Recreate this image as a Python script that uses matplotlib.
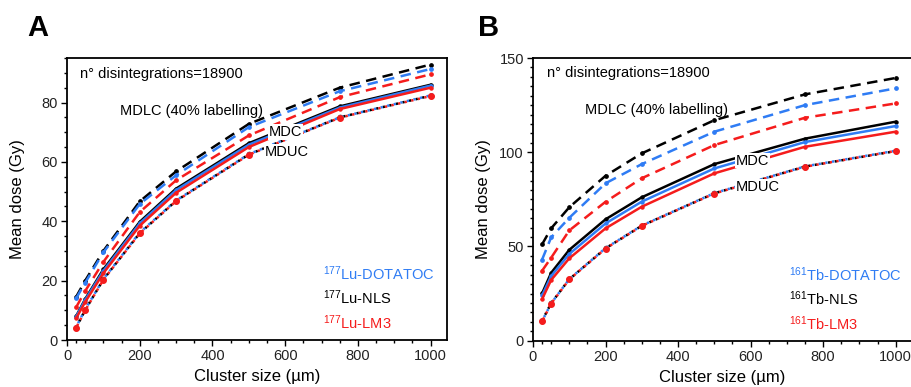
import matplotlib
matplotlib.use("Agg")
import matplotlib.pyplot as plt
from matplotlib.ticker import FixedLocator, MultipleLocator

plt.rcParams['font.family'] = ['Liberation Sans', 'DejaVu Sans']
plt.rcParams['mathtext.fontset'] = 'custom'
plt.rcParams['mathtext.rm'] = 'Liberation Sans'
plt.rcParams['mathtext.it'] = 'Liberation Sans:italic'
plt.rcParams['mathtext.bf'] = 'Liberation Sans:bold'

# ---------------- data ----------------
cluster_size = [25, 50, 100, 200, 300, 500, 750, 1000]

# Panel A : 177Lu
lu_dotatoc_mdlc = [14.0, 19.3, 29.5, 45.8, 55.5, 71.7, 83.8, 91.3]
lu_nls_mdlc     = [14.5, 20.0, 30.0, 46.7, 56.8, 72.8, 85.0, 92.8]
lu_lm3_mdlc     = [11.0, 16.5, 26.3, 43.1, 53.8, 68.9, 81.8, 89.5]
lu_nls_mdc      = [8.0, 13.8, 23.8, 39.8, 51.0, 66.3, 78.7, 86.0]
lu_dotatoc_mdc  = [7.8, 13.5, 23.3, 39.3, 50.5, 65.8, 78.3, 85.7]
lu_lm3_mdc      = [7.3, 12.8, 22.5, 38.5, 49.6, 65.0, 77.8, 85.0]
lu_nls_mduc     = [4.2, 10.1, 20.4, 36.0, 46.9, 62.5, 75.0, 82.3]
lu_dotatoc_mduc = [4.3, 10.3, 20.5, 36.2, 47.0, 62.6, 75.0, 82.4]
lu_lm3_mduc     = [4.1, 10.0, 20.3, 35.9, 46.8, 62.4, 74.9, 82.2]

# Panel B : 161Tb
tb_dotatoc_mdlc = [43.0, 54.8, 65.2, 83.5, 93.7, 110.9, 125.0, 133.9]
tb_nls_mdlc     = [51.1, 59.6, 70.8, 87.5, 99.4, 117.0, 130.7, 139.4]
tb_lm3_mdlc     = [37.1, 44.0, 58.5, 73.7, 86.2, 103.8, 118.3, 125.9]
tb_nls_mdc      = [25.1, 36.0, 48.2, 64.4, 76.1, 93.7, 107.2, 116.2]
tb_dotatoc_mdc  = [24.0, 34.3, 46.0, 62.2, 73.8, 91.4, 105.4, 113.9]
tb_lm3_mdc      = [22.0, 32.2, 43.7, 59.6, 71.1, 88.8, 102.9, 110.9]
tb_nls_mduc     = [10.6, 19.9, 32.6, 49.0, 61.0, 78.2, 92.4, 100.6]
tb_dotatoc_mduc = [10.4, 19.8, 32.7, 49.1, 61.1, 78.3, 92.5, 100.8]
tb_lm3_mduc     = [10.2, 19.7, 32.5, 48.9, 60.9, 78.1, 92.3, 100.7]

labels_lu = ["$^{177}$Lu-DOTATOC", "$^{177}$Lu-NLS", "$^{177}$Lu-LM3"]
labels_tb = ["$^{161}$Tb-DOTATOC", "$^{161}$Tb-NLS", "$^{161}$Tb-LM3"]

BLUE = '#2f7cf4'
BLACK = '#000000'
RED = '#f51c1c'

fig = plt.figure(figsize=(9.12, 3.87), dpi=100)
axA = fig.add_axes([67/912, 47/387, 380/912, 282/387])
axB = fig.add_axes([533/912, 46.3/387, 379/912, 282.7/387])


def draw(ax, dl, dc, du, ymax, ymajor, yminor, labels, legy, txt):
    # MDLC dashed
    for vals, c in [(dl[1], BLACK), (dl[0], BLUE), (dl[2], RED)]:
        ax.plot(cluster_size, vals, color=c, lw=1.8, dashes=(4.2, 2.6),
                marker='o', ms=2.4, zorder=3)
    # MDC solid
    for vals, c in [(dc[1], BLACK), (dc[0], BLUE), (dc[2], RED)]:
        ax.plot(cluster_size, vals, color=c, lw=1.8, ls='-',
                marker='o', ms=2.2, zorder=3)
    # MDUC dotted
    for i, (vals, c, ms) in enumerate([(du[1], BLACK, 3.0), (du[0], BLUE, 2.6), (du[2], RED, 4.0)]):
        ax.plot(cluster_size, vals, color=c, lw=1.8,
                ls=(i * 0.9, (0.9, 1.8)), marker='o', ms=ms, zorder=3)

    ax.set_xlim(0, 1045)
    ax.set_ylim(0, ymax)
    ax.xaxis.set_major_locator(FixedLocator([0, 200, 400, 600, 800, 1000]))
    ax.xaxis.set_minor_locator(FixedLocator([25, 50, 100, 150, 250, 300, 350, 450, 500, 550,
                                             650, 700, 750, 850, 900, 950]))
    ax.yaxis.set_major_locator(MultipleLocator(ymajor))
    ax.yaxis.set_minor_locator(MultipleLocator(yminor))
    ax.tick_params(which='major', direction='out', length=4.5, width=1.0,
                   labelsize=10.5, labelcolor='#222222', pad=2)
    ax.tick_params(which='minor', direction='out', length=2.5, width=1.0)
    for s in ax.spines.values():
        s.set_linewidth(1.3)
    ax.set_xlabel("Cluster size (µm)", fontsize=12)
    ax.set_ylabel("Mean dose (Gy)", fontsize=12)
    ax.xaxis.set_label_coords(0.5, -0.103)
    ax.yaxis.set_label_coords(-0.11, 0.5)

    bb = dict(facecolor='white', edgecolor='none', pad=0.5)
    for (t, xx, yy, b) in txt:
        ax.text(xx, yy, t, fontsize=10.5, ha='left', va='center',
                bbox=bb if b else None, zorder=5)

    for lab, c, yy in zip(labels, [BLUE, BLACK, RED], legy):
        ax.text(705, yy, lab, color=c, fontsize=10.5, ha='left', va='center', zorder=5)


draw(axA, [lu_dotatoc_mdlc, lu_nls_mdlc, lu_lm3_mdlc],
     [lu_dotatoc_mdc, lu_nls_mdc, lu_lm3_mdc],
     [lu_dotatoc_mduc, lu_nls_mduc, lu_lm3_mduc],
     95, 20, 5, labels_lu, [22.5, 14.1, 5.7],
     [("n° disintegrations=18900", 36, 89.7, False),
      ("MDLC (40% labelling)", 146, 77.3, False),
      ("MDC", 554, 70.0, True),
      ("MDUC", 545, 63.3, True)])

draw(axB, [tb_dotatoc_mdlc, tb_nls_mdlc, tb_lm3_mdlc],
     [tb_dotatoc_mdc, tb_nls_mdc, tb_lm3_mdc],
     [tb_dotatoc_mduc, tb_nls_mduc, tb_lm3_mduc],
     150, 50, 5, labels_tb, [34.9, 22.1, 8.9],
     [("n° disintegrations=18900", 38, 142, False),
      ("MDLC (40% labelling)", 143, 122.4, False),
      ("MDC", 560, 95.5, True),
      ("MDUC", 560, 81.7, True)])

fig.text(27/912, 1 - 28/387, "A", fontsize=21, fontweight='bold', ha='left', va='center')
fig.text(478/912, 1 - 28/387, "B", fontsize=21, fontweight='bold', ha='left', va='center')

fig.savefig("out.png", dpi=100)
